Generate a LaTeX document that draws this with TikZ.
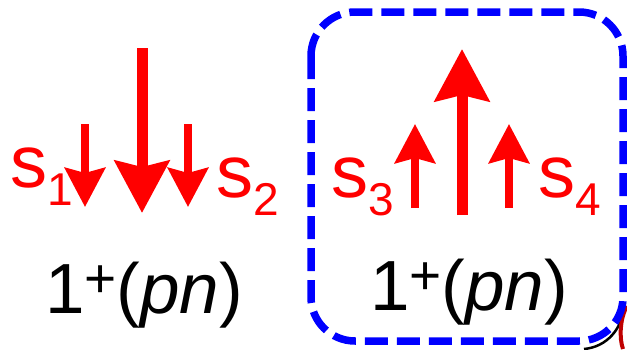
\documentclass[tikz,border=0pt]{standalone}
\usepackage{fontspec}
\setmainfont{Liberation Sans}
\usepackage{tikz}
\usetikzlibrary{arrows.meta}
\usetikzlibrary{positioning}
\definecolor{spinred}{rgb}{1,0,0}
\definecolor{boxblue}{rgb}{0,0,1}
\definecolor{darkred}{rgb}{0.75,0,0}
\newcommand{\spinname}[1]{s\raisebox{-18pt}{\fontsize{46}{46}\selectfont #1}}
\newcommand{\statename}{1\raisebox{16pt}{\fontsize{55}{55}\selectfont +}(\textit{pn})}
\tikzset{
spin_small/.style={draw=spinred, line width=8pt, -{Stealth[length=39pt, width=40pt, inset=5pt, fill=spinred]}},
spin_big/.style={draw=spinred, line width=11pt, -{Stealth[length=52pt, width=54pt, inset=6pt, fill=spinred]}},
spin_label/.style={inner sep=0pt, text=spinred, font=\fontsize{74}{74}\selectfont, anchor=base west},
state_label/.style={inner sep=0pt, text=black, font=\fontsize{71}{71}\selectfont, anchor=base west},
frame_box/.style={draw=boxblue, line width=7.5pt, rounded corners=44pt, dash pattern=on 23pt off 9pt}
}

\begin{document}
\begin{tikzpicture}[x=1pt, y=-1pt]
    \useasboundingbox (0,0) rectangle (627,349);
    % pieces of the neighbouring panels
    \draw[black, line width=2.5pt] (584,349) .. controls (606,347) and (623,330) .. (625,302);
    \draw[darkred, line width=4pt] (627,306) .. controls (620,318) and (619,338) .. (623,349);
    % left state: spins down
    \coordinate (tail_s1) at (85,124);
    \coordinate (tip_s1) at (85,207);
    \coordinate (tail_left) at (142,48);
    \coordinate (tip_left) at (142,213);
    \coordinate (tail_s2) at (188,124);
    \coordinate (tip_s2) at (188,207);
    \draw[spin_small] (tail_s1) -- (tip_s1);
    \draw[spin_big] (tail_left) -- (tip_left);
    \draw[spin_small] (tail_s2) -- (tip_s2);
    \node[spin_label] (label_s1) at (10,187) {\spinname{1}};
    \node[spin_label] (label_s2) at (216,197) {\spinname{2}};
    \node[state_label] (state_left) at (45,313) {\statename};
    % right state: spins up
    \draw[frame_box] (311,12) rectangle (623,341);
    \coordinate (tail_s3) at (415,208);
    \coordinate (tip_s3) at (415,124);
    \coordinate (tail_right) at (462,215);
    \coordinate (tip_right) at (462,49);
    \coordinate (tail_s4) at (509,208);
    \coordinate (tip_s4) at (509,124);
    \draw[spin_small] (tail_s3) -- (tip_s3);
    \draw[spin_big] (tail_right) -- (tip_right);
    \draw[spin_small] (tail_s4) -- (tip_s4);
    \node[spin_label] (label_s3) at (331,197) {\spinname{3}};
    \node[spin_label] (label_s4) at (538,197) {\spinname{4}};
    \node[state_label] (state_right) at (370,310) {\statename};
\end{tikzpicture}
\end{document}
